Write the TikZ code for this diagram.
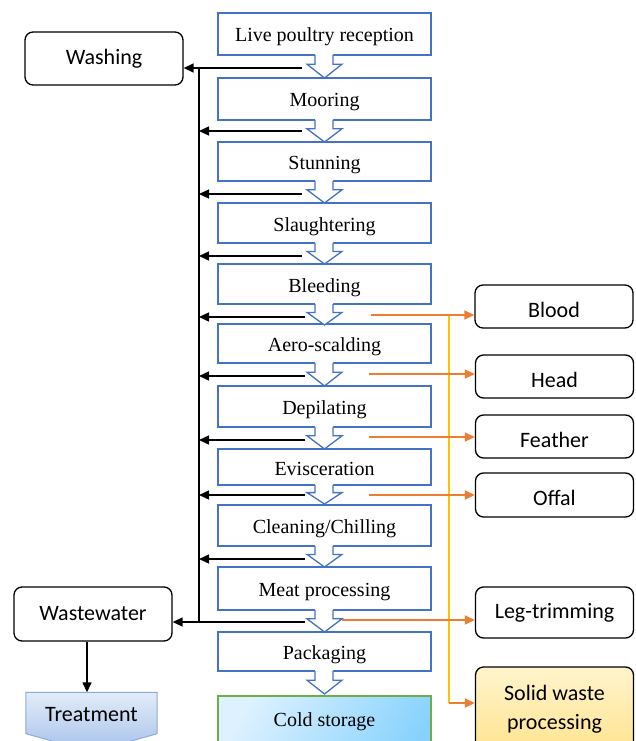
\documentclass[tikz,border=0pt]{standalone}
\usepackage{fontspec}
\setmainfont{Liberation Serif}
\newfontfamily\calib{Carlito}
\usetikzlibrary{arrows.meta}
\definecolor{boxblue}{HTML}{4472C4}
\definecolor{orangeln}{HTML}{ED7D31}
\definecolor{yellowln}{HTML}{FFC000}
\definecolor{greenbd}{HTML}{70AD47}
\definecolor{csdark}{HTML}{86D2FD}
\definecolor{cslight}{HTML}{DDF1FF}
\definecolor{trtop}{HTML}{E3ECF9}
\definecolor{trbot}{HTML}{A6C1EA}
\definecolor{trbd}{HTML}{8FAADC}
\definecolor{swtop}{HTML}{FFF4CC}
\definecolor{swbot}{HTML}{FFE38F}
\tikzset{
  mainbox/.style={draw=boxblue, line width=1.3pt, fill=white, minimum width=213pt, inner sep=0pt, text height=16pt, text depth=0pt, font=\fontsize{20}{24}\selectfont},
  sidebox/.style={draw=black, line width=1.3pt, rounded corners=8pt, fill=white, minimum width=158pt, inner sep=0pt, align=center, font=\calib\fontsize{22}{29}\selectfont},
  lowtext/.style={text height=21pt, text depth=0pt},
  chev/.style={draw=boxblue, line width=1.3pt},
  blk/.style={draw=black, line width=1.4pt, -{Triangle[length=10pt,width=9pt]}},
  orn/.style={draw=orangeln, line width=1.4pt, -{Triangle[length=10pt,width=9pt]}},
  yel/.style={draw=yellowln, line width=1.4pt},
}
\newcommand{\flowchev}[2]{%
  \pgfmathsetmacro\chmid{#1+0.4*(#2-#1)}%
  \fill[white] (315,#1-1) -- (315,\chmid) -- (307,\chmid) -- (324.5,#2) -- (342,\chmid) -- (333,\chmid) -- (333,#1-1) -- cycle;
  \draw[chev] (315,#1) -- (315,\chmid) -- (307,\chmid) -- (324.5,#2) -- (342,\chmid) -- (333,\chmid) -- (333,#1);
}
\begin{document}
\begin{tikzpicture}[x=1pt,y=-1pt]
\useasboundingbox (0,0) rectangle (636,741);
\clip (0,0) rectangle (636,741);
% main chain
\node[mainbox, minimum height=42pt] (live) at (324.5,34) {Live poultry reception};
\node[mainbox, minimum height=42pt] (moor) at (324.5,99) {Mooring};
\node[mainbox, minimum height=39pt] (stun) at (324.5,161.5) {Stunning};
\node[mainbox, minimum height=40pt] (slau) at (324.5,223) {Slaughtering};
\node[mainbox, minimum height=40pt] (bleed) at (324.5,284) {Bleeding};
\node[mainbox, minimum height=39pt] (aero) at (324.5,343.5) {Aero-scalding};
\node[mainbox, minimum height=41pt] (depil) at (324.5,406.5) {Depilating};
\node[mainbox, minimum height=36pt] (evisc) at (324.5,467) {Evisceration};
\node[mainbox, minimum height=41pt] (clean) at (324.5,525.5) {Cleaning/Chilling};
\node[mainbox, minimum height=43pt] (meat) at (324.5,588.5) {Meat processing};
\node[mainbox, minimum height=39pt] (pack) at (324.5,651.5) {Packaging};
\path[left color=cslight, right color=csdark, shading angle=60, draw=greenbd, line width=1.3pt] (218,696) rectangle (431,780);
\node[font=\fontsize{20}{24}\selectfont, text height=16pt, text depth=0pt, inner sep=0pt] (cold) at (324.5,718) {Cold storage};
% chevrons
\flowchev{55}{78}
\flowchev{120}{142}
\flowchev{181}{203}
\flowchev{243}{264}
\flowchev{304}{325}
\flowchev{363}{386}
\flowchev{427}{449}
\flowchev{485}{504}
\flowchev{546}{567}
\flowchev{610}{632}
\flowchev{671}{694}
% left boxes
\node[sidebox, minimum height=53pt] (wash) at (104,58.5) {Washing};
\node[sidebox, minimum height=54pt] (waste) at (93,614) {Wastewater};
% treatment
\node[minimum width=131pt, minimum height=41pt, inner sep=0pt] (treat) at (91.5,713) {};
\shade[top color=trtop, bottom color=trbot] (treat.north west) -- (treat.north east) -- (treat.south east) -- (91.5,752) -- (treat.south west) -- cycle;
\draw[trbd, line width=1pt] (treat.north west) -- (treat.north east) -- (treat.south east) -- (91.5,752) -- (treat.south west) -- cycle;
\node[font=\calib\fontsize{22}{26}\selectfont] (treattext) at ([yshift=-1.5pt]treat.center) {Treatment};
% right boxes
\node[sidebox, lowtext, minimum height=43pt] (blood) at (554,306.5) {Blood};
\node[sidebox, lowtext, minimum height=43pt] (head) at (554.5,376.5) {Head};
\node[sidebox, lowtext, minimum height=43pt] (feather) at (554.5,436.5) {Feather};
\node[sidebox, lowtext, minimum height=44pt] (offal) at (554.5,495) {Offal};
\node[sidebox, minimum height=51pt] (leg) at (554.5,612.5) {Leg-trimming};
\node[sidebox, minimum height=85pt, fill=none, top color=swtop, bottom color=swbot] (solid) at (554.5,709.5) {Solid waste\\processing};
% left (black) connectors
\coordinate (b1) at (302,68);
\coordinate (b2) at (302,131);
\coordinate (b3) at (302,194);
\coordinate (b4) at (302,256);
\coordinate (b5) at (305,317);
\coordinate (b6) at (305,376);
\coordinate (b7) at (305,440);
\coordinate (b8) at (305,495);
\coordinate (b9) at (305,559);
\coordinate (b10) at (305,622);
\coordinate (vtop) at (199,68);
\coordinate (vbot) at (199,622);
\draw[black, line width=1.4pt] (vtop) -- (vbot);
\draw[blk] (b1) -- (b1 -| wash.east);
\foreach \i in {2,...,9} \draw[blk] (b\i) -- (b\i -| vtop);
\draw[blk] (waste.south -| 87,0) -- (treat.north -| 87,0);
\draw[blk] (b10) -- (b10 -| waste.east);
% right (orange) connectors
\coordinate (o1) at (371,315);
\coordinate (o2) at (369,374);
\coordinate (o3) at (369,437);
\coordinate (o4) at (369,495);
\coordinate (o5) at (342,620);
\coordinate (ytop) at (449,315);
\coordinate (ybot) at (449,703);
\draw[yel] (ytop) -- (ybot);
\draw[orn] (o1) -- (o1 -| blood.west);
\draw[orn] (o2) -- (o2 -| head.west);
\draw[orn] (o3) -- (o3 -| feather.west);
\draw[orn] (o4) -- (o4 -| offal.west);
\draw[orn] (o5) -- (o5 -| leg.west);
\draw[orn] (ybot) -- (ybot -| solid.west);
\end{tikzpicture}
\end{document}
